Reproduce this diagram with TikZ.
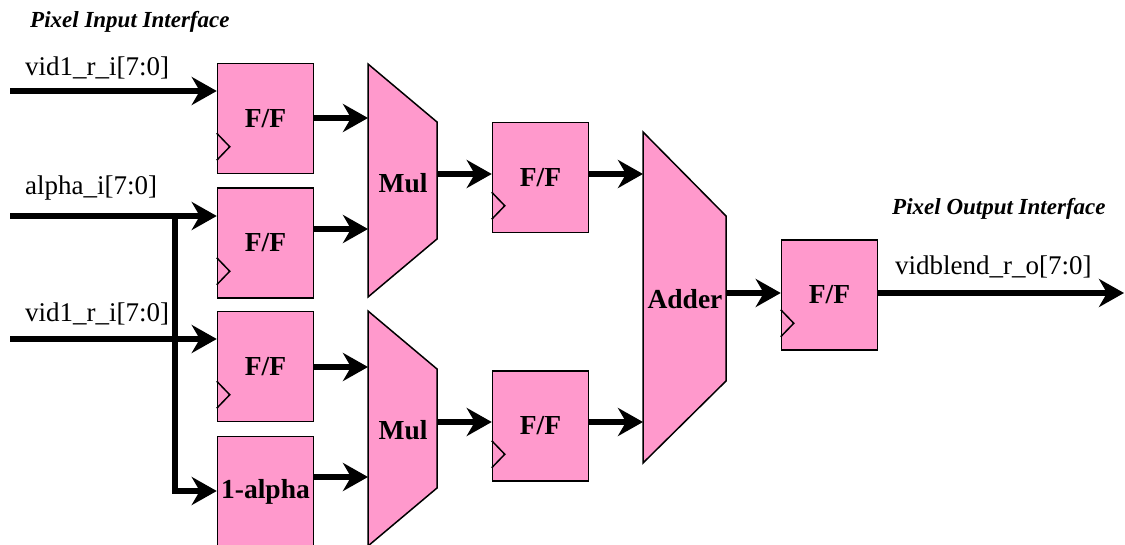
\documentclass[tikz,border=0pt]{standalone}
\usepackage{fontspec}
\setmainfont{Liberation Serif}
\usetikzlibrary{arrows.meta,calc}
\definecolor{ffpink}{HTML}{FF99CC}
\begin{document}
\begin{tikzpicture}[x=1pt,y=-1pt,
  sig/.style={line width=6pt,-{Stealth[length=25pt,width=28pt,inset=8pt]}},
  ffbox/.style={draw, line width=1.5pt, fill=ffpink, minimum width=96pt, minimum height=110pt, inner sep=0pt, font=\fontsize{27.5}{30}\selectfont\bfseries},
  block/.style={draw, line width=1.5pt, fill=ffpink, line join=miter},
  clk/.style={draw, line width=1.5pt},
  bl/.style={inner sep=0pt, font=\fontsize{27.5}{30}\selectfont\bfseries},
  lbl/.style={font=\fontsize{27}{30}\selectfont, anchor=base west, inner sep=0pt},
  ttl/.style={font=\fontsize{23}{26}\selectfont\bfseries\itshape, anchor=base west, inner sep=0pt}]
\useasboundingbox (0,0) rectangle (1125,545);
\clip (0,0) rectangle (1125,545);

% titles and labels
\node[ttl] (tin) at (30,28) {Pixel Input Interface};
\node[ttl] (tout) at (892,215) {Pixel Output Interface};
\node[lbl] (l1) at (25,76) {vid1\_r\_i[7:0]};
\node[lbl] (l2) at (25,195) {alpha\_i[7:0]};
\node[lbl] (l3) at (25,322) {vid1\_r\_i[7:0]};
\node[lbl] (l4) at (895,275) {vidblend\_r\_o[7:0]};

% flip-flops
\node[ffbox] (ff1) at (265.5,118.5) {F/F};
\node[ffbox] (ff2) at (265.5,243) {F/F};
\node[ffbox] (ff3) at (265.5,366.5) {F/F};
\node[ffbox] (ff4) at (265.5,491.5) {1-alpha};
\node[ffbox] (ff5) at (540.5,177.5) {F/F};
\node[ffbox] (ff6) at (540.5,426) {F/F};
\node[ffbox] (ff7) at (829.5,295) {F/F};

% clock marks
\foreach \f in {ff1,ff2,ff3,ff5,ff6,ff7}{
  \draw[clk] ($(\f.south west)+(0,-41)$) -- ++(13,13.5) -- ++(-13,13.5);
}

% multipliers and adder
\draw[block] (368,64) -- (437,122) -- (437,239) -- (368,297) -- cycle;
\draw[block] (368,311) -- (437,369) -- (437,488) -- (368,546) -- cycle;
\draw[block] (643,132) -- (726,216) -- (726,381) -- (643,463) -- cycle;
\node[bl] (mul1) at (403,183) {Mul};
\node[bl] (mul2) at (403,430) {Mul};
\node[bl] (add) at (685,299) {Adder};

% ports
\coordinate (in1) at (10,91);
\coordinate (in2) at (10,216);
\coordinate (in3) at (10,339);
\coordinate (br) at (175,216);
\coordinate (br2) at (175,491);
\coordinate (m1a) at (368,118);
\coordinate (m1b) at (368,229);
\coordinate (m2a) at (368,367);
\coordinate (m2b) at (368,477);
\coordinate (m1o) at (437,174);
\coordinate (m2o) at (437,422);
\coordinate (ada) at (643,174);
\coordinate (adb) at (643,422);
\coordinate (ado) at (726,293);
\coordinate (out) at (1124,293);

% connectors
\draw[sig] (in1) -- (in1 -| ff1.west);
\draw[sig] (in2) -- (in2 -| ff2.west);
\draw[sig] (in3) -- (in3 -| ff3.west);
\draw[sig] (br) -- (br2) -- (br2 -| ff4.west);
\draw[sig] (m1a -| ff1.east) -- (m1a);
\draw[sig] (m1b -| ff2.east) -- (m1b);
\draw[sig] (m2a -| ff3.east) -- (m2a);
\draw[sig] (m2b -| ff4.east) -- (m2b);
\draw[sig] (m1o) -- (m1o -| ff5.west);
\draw[sig] (m2o) -- (m2o -| ff6.west);
\draw[sig] (ada -| ff5.east) -- (ada);
\draw[sig] (adb -| ff6.east) -- (adb);
\draw[sig] (ado) -- (ado -| ff7.west);
\draw[sig] (out -| ff7.east) -- (out);
\end{tikzpicture}
\end{document}
